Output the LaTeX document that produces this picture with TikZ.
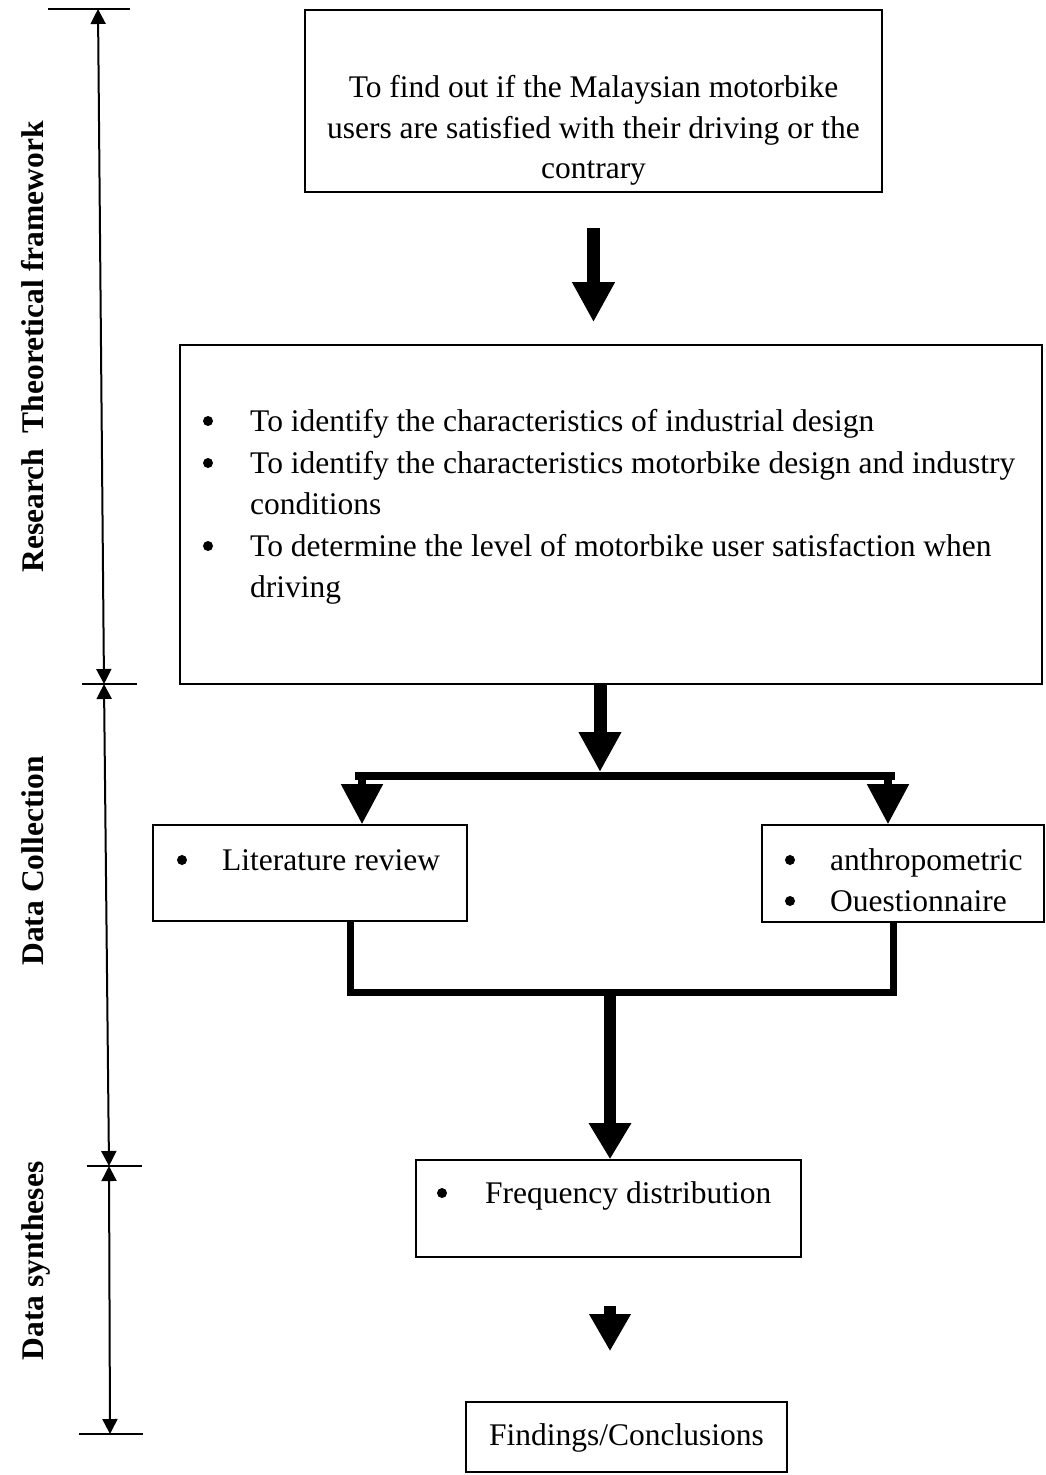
\documentclass[tikz,border=0pt]{standalone}
\usepackage{fontspec}
\setmainfont{Liberation Serif}
\usetikzlibrary{arrows.meta}
\tikzset{
  box/.style={draw, line width=1.6pt, inner sep=0pt},
  txt/.style={inner sep=0pt, font=\fontsize{31.5}{41}\selectfont},
  dot/.style={circle, fill, inner sep=0pt, minimum size=10pt},
  lbl/.style={inner sep=0pt, font=\fontsize{31.5}{41}\selectfont\bfseries, rotate=90, anchor=base},
  bigarrow/.style={line width=13pt, -{Triangle[length=40pt,width=40pt]}},
  smallarrow/.style={line width=8pt, -{Triangle[length=40pt,width=40pt]}},
  bar/.style={line width=7pt, line join=miter},
  dimline/.style={line width=2pt, {Triangle[length=15pt,width=15pt]}-{Triangle[length=15pt,width=15pt]}},
  tickline/.style={line width=2.5pt},
}
\begin{document}
\begin{tikzpicture}[x=1pt,y=-1pt]
\useasboundingbox[fill=white] (0,0) rectangle (1045,1475);

% boxes
\node[box, minimum width=577pt, minimum height=182pt] (b1) at (593.5,101) {};
\node[box, minimum width=862pt, minimum height=339pt] (b2) at (611,514.5) {};
\node[box, minimum width=314pt, minimum height=96pt] (lit) at (310,873) {};
\node[box, minimum width=282pt, minimum height=97pt] (quest) at (903,873.5) {};
\node[box, minimum width=385pt, minimum height=97pt] (freq) at (608.5,1208.5) {};
\node[box, minimum width=321pt, minimum height=70pt] (find) at (626.5,1437) {};

% box 1 text
\node[txt, anchor=base] (t1a) at (593.5,97) {To find out if the Malaysian motorbike};
\node[txt, anchor=base] (t1b) at (593.5,138) {users are satisfied with their driving or the};
\node[txt, anchor=base] (t1c) at (593.5,178) {contrary};

% box 2 text
\node[dot] (bu1) at (208,421) {};
\node[txt, anchor=base west] (t2a) at (250,431) {To identify the characteristics of industrial design};
\node[dot] (bu2) at (208,463) {};
\node[txt, anchor=base west] (t2b) at (250,473) {To identify the characteristics motorbike design and industry};
\node[txt, anchor=base west] (t2c) at (250,514) {conditions};
\node[dot] (bu3) at (208,546) {};
\node[txt, anchor=base west] (t2d) at (250,556) {To determine the level of motorbike user satisfaction when};
\node[txt, anchor=base west] (t2e) at (250,597) {driving};

% data collection boxes text
\node[dot] (bu4) at (182,860) {};
\node[txt, anchor=base west] (t3) at (222,870) {Literature review};
\node[dot] (bu5) at (790,860) {};
\node[txt, anchor=base west] (t4a) at (830,870) {anthropometric};
\node[dot] (bu6) at (790,901) {};
\node[txt, anchor=base west] (t4b) at (830,911) {Ouestionnaire};

% synthesis text
\node[dot] (bu7) at (442,1193) {};
\node[txt, anchor=base west] (t5) at (485,1203) {Frequency distribution};
\node[txt, anchor=base] (t6) at (626.5,1445) {Findings/Conclusions};

% main arrows
\draw[bigarrow, shorten <=35pt, shorten >=22pt] (b1.south) -- (b1.south |- b2.north);

\coordinate (split) at (600,772);
\coordinate (barL) at (355,776);
\coordinate (barR) at (895,776);
\coordinate (splitL) at (362,776);
\coordinate (splitR) at (888,776);
\draw[bigarrow] (b2.south -| split) -- (split);
\draw[line width=8pt] (barL) -- (barR);
\draw[smallarrow] (splitL) -- (splitL |- lit.north);
\draw[smallarrow] (splitR) -- (splitR |- quest.north);

\coordinate (mergeL) at (350,992);
\coordinate (mergeR) at (893,992);
\coordinate (merge) at (610,992);
\draw[bar] (lit.south -| mergeL) -- (mergeL) -- (mergeR) -- (quest.south -| mergeR);
\draw[line width=12pt, -{Triangle[length=36pt,width=40pt]}] (merge) -- (merge |- freq.north);

\coordinate (a3) at (610,1257);
\draw[line width=12pt, -{Triangle[length=37pt,width=39pt]}, shorten <=48pt, shorten >=50pt] (a3 |- freq.south) -- (a3 |- find.north);

% left scale
\coordinate (s0) at (98,9);
\coordinate (s1) at (104,684);
\coordinate (s2) at (109,1166);
\coordinate (s3) at (110,1434);
\draw[tickline] (48,9) -- (130,9);
\draw[tickline] (82,684) -- (137,684);
\draw[tickline] (87,1166) -- (142,1166);
\draw[tickline] (79,1434) -- (143,1434);
\draw[dimline] (s0) -- (s1);
\draw[dimline] (s1) -- (s2);
\draw[dimline] (s2) -- (s3);

% labels
\node[lbl] (l1) at (43,347) {Research\ \ Theoretical framework};
\node[lbl] (l2) at (43,861) {Data Collection};
\node[lbl] (l3) at (43,1261) {Data syntheses};
\end{tikzpicture}
\end{document}
